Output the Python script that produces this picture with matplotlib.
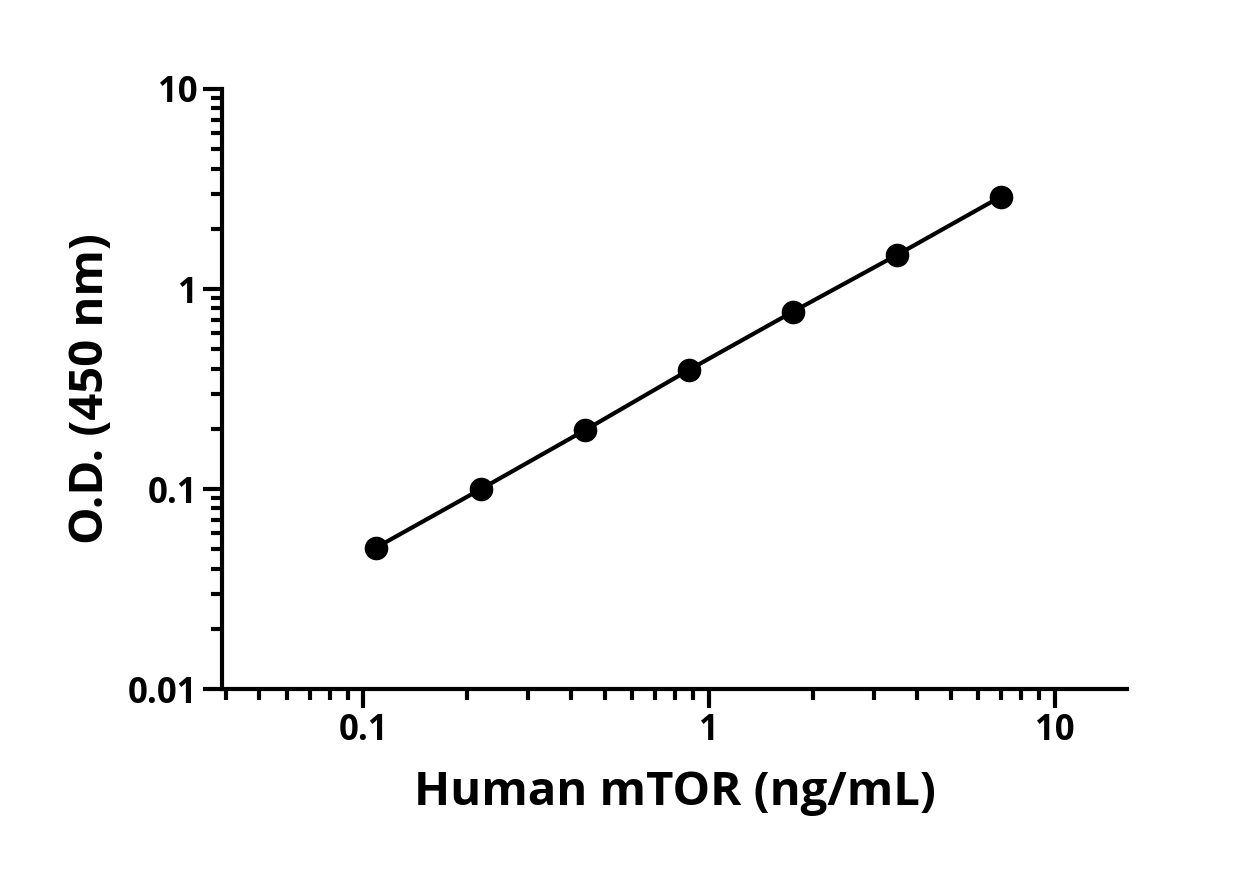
import numpy as np
import matplotlib.pyplot as plt
from matplotlib.ticker import LogLocator, NullFormatter, FixedLocator

# standard curve values
conc = [0.109, 0.219, 0.438, 0.875, 1.75, 3.5, 7.0]
od = [0.051, 0.100, 0.197, 0.394, 0.77, 1.48, 2.9]
xticks = [0.1, 1, 10]
xticklabels = ["0.1", "1", "10"]
yticks = [0.01, 0.1, 1, 10]
yticklabels = ["0.01", "0.1", "1", "10"]

plt.rcParams["font.family"] = "Open Sans"
plt.rcParams["font.weight"] = "bold"

fig = plt.figure(figsize=(12.5, 8.69), dpi=100)
ax = fig.add_axes([0.1776, 0.2071, 0.724, 0.6905])
ax.plot(conc, od, color="black", lw=3, marker="o", ms=16)
ax.set_xscale("log")
ax.set_yscale("log")
ax.set_xlim(0.039, 16.2)
ax.set_ylim(0.01, 10)

for s in ["top", "right"]:
    ax.spines[s].set_visible(False)
for s in ["left", "bottom"]:
    ax.spines[s].set_linewidth(3)

ax.xaxis.set_major_locator(FixedLocator(xticks))
ax.set_xticklabels(xticklabels)
ax.yaxis.set_major_locator(FixedLocator(yticks))
ax.set_yticklabels(yticklabels)
ax.xaxis.set_minor_locator(LogLocator(base=10, subs=np.arange(2, 10)))
ax.yaxis.set_minor_locator(LogLocator(base=10, subs=np.arange(2, 10)))
ax.xaxis.set_minor_formatter(NullFormatter())
ax.yaxis.set_minor_formatter(NullFormatter())
ax.tick_params(which="major", length=14, width=3, labelsize=25, direction="out")
ax.tick_params(which="minor", length=8, width=3, direction="out")

ax.set_xlabel("Human mTOR (ng/mL)", fontsize=34, fontweight="bold", labelpad=14)
ax.set_ylabel("O.D. (450 nm)", fontsize=34, fontweight="bold", labelpad=10)

fig.savefig("out.png", dpi=100)
